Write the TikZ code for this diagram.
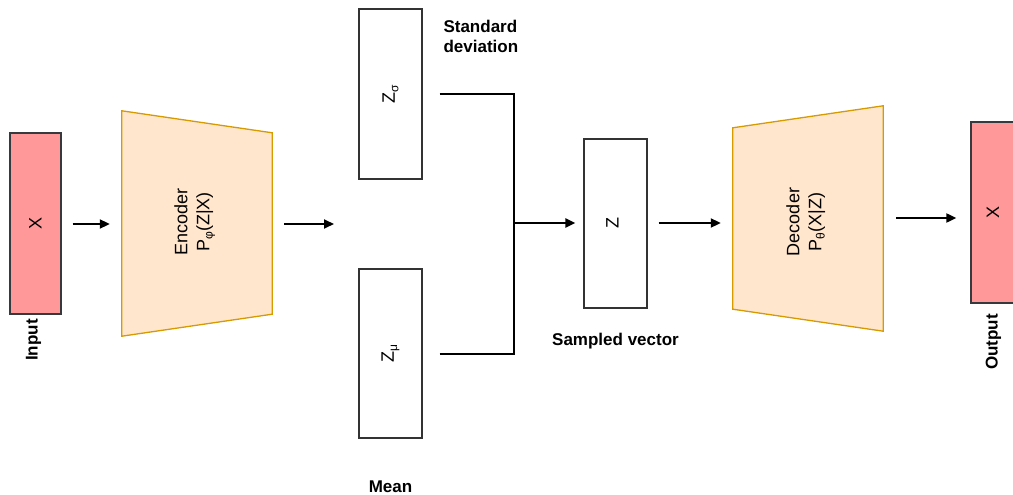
\documentclass[tikz,border=0pt]{standalone}
\usepackage{fontspec}
\setmainfont{Liberation Sans}
\usetikzlibrary{arrows.meta,calc}
\definecolor{datafill}{HTML}{FF9999}
\definecolor{datadraw}{HTML}{36393D}
\definecolor{netfill}{HTML}{FFE6CC}
\definecolor{netdraw}{HTML}{D79B00}
\definecolor{boxdraw}{HTML}{333333}
\newcommand{\lowsub}[1]{\raisebox{-0.35ex}{\fontsize{12}{12}\selectfont #1}}
\begin{document}
\begin{tikzpicture}[x=1pt,y=-1pt,
  databox/.style={draw=datadraw,fill=datafill,line width=1.3pt,minimum width=51pt,minimum height=181pt,inner sep=0pt},
  vecbox/.style={draw=boxdraw,fill=white,line width=1.2pt,minimum width=63pt,minimum height=169pt,inner sep=0pt},
  netframe/.style={minimum width=150pt,minimum height=225pt,inner sep=0pt},
  netshape/.style={draw=netdraw,fill=netfill,line width=1.3pt,line join=miter},
  flow/.style={line width=2pt,-{Triangle[length=10pt,width=9pt]}},
  wire/.style={line width=2pt},
  boxtext/.style={font=\fontsize{18}{22}\selectfont,align=center},
  tag/.style={font=\fontsize{17}{20}\selectfont\bfseries,align=left}
]
\useasboundingbox (0,0) rectangle (1013,495);
\clip (0,0) rectangle (1013,495);

% input and output data
\node[databox] (in) at (35.5,223.5) {};
\node[boxtext] at (in.center) {\rotatebox{90}{X}};
\node[tag] (inlbl) at (33.5,340) {\rotatebox{90}{Input}};

\node[databox] (out) at (996.5,212.5) {};
\node[boxtext] at (993,212.5) {\rotatebox{90}{X}};
\node[tag] (outlbl) at (993.5,342) {\rotatebox{90}{Output}};

% encoder: trapezoid narrowing to the right
\node[netframe] (enc) at (197,223.5) {};
\filldraw[netshape] (enc.north west) -- ($(enc.north east)+(0,22)$)
  -- ($(enc.south east)+(0,-22)$) -- (enc.south west) -- cycle;
\node[boxtext] at (194,222) {\rotatebox{90}{\begin{tabular}{@{}c@{}}Encoder\\[0pt]P\lowsub{φ}(Z|X)\end{tabular}}};

% decoder: trapezoid widening to the right
\node[netframe] (dec) at (808,218.5) {};
\filldraw[netshape] ($(dec.north west)+(0,22)$) -- (dec.north east)
  -- (dec.south east) -- ($(dec.south west)+(0,-22)$) -- cycle;
\node[boxtext] at (806,222) {\rotatebox{90}{\begin{tabular}{@{}c@{}}Decoder\\[0pt]P\lowsub{θ}(X|Z)\end{tabular}}};

% latent statistics and sampled vector
\node[vecbox,minimum height=170pt] (zs) at (390.5,94) {};
\node[boxtext] at (zs.center) {\rotatebox{90}{Z\lowsub{σ}}};
\node[vecbox] (zm) at (390.5,353.5) {};
\node[boxtext] at (zm.center) {\rotatebox{90}{Z\lowsub{μ}}};
\node[vecbox] (z) at (615.5,223.5) {};
\node[boxtext] at (612.5,223.5) {\rotatebox{90}{Z}};

\node[tag,anchor=west] (sdlbl) at (440,36) {Standard\\[0pt]deviation};
\node[tag] (meanlbl) at (390.5,487) {Mean};
\node[tag] (samplbl) at (615.5,341) {Sampled vector};

% connectors
\coordinate (encout) at (334,224);
\coordinate (join) at (514,223);
\draw[flow,shorten <=11pt,shorten >=12pt] (in.east |- 0,224) -- (enc.west |- 0,224);
\draw[flow,shorten <=12pt] (enc.east |- encout) -- (encout);
\draw[wire,shorten <=17pt] (zs.east) -| (join);
\draw[wire,shorten <=17pt] (zm.east) -| (join);
\draw[flow,shorten >=8pt] (join) -- (z.west |- join);
\draw[flow,shorten <=11pt,shorten >=12pt] (z.east |- join) -- (dec.west |- join);
\draw[flow,shorten <=13pt,shorten >=14pt] (dec.east |- 0,218) -- (out.west |- 0,218);
\end{tikzpicture}
\end{document}
